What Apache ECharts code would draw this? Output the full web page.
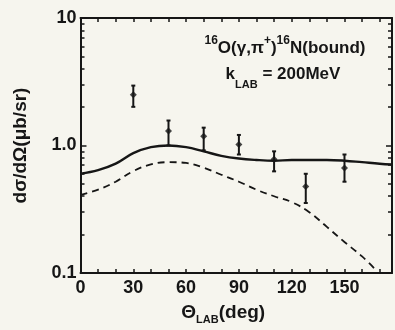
<!DOCTYPE html>
<html>
<head>
<meta charset="utf-8">
<script src="https://cdn.jsdelivr.net/npm/echarts@6/dist/echarts.min.js"></script>
<style>
  html, body { margin: 0; padding: 0; background: #f6f5ee; }
  #chart { width: 395px; height: 330px; }
</style>
</head>
<body>
<div id="chart"></div>
<script>
// theory curves (deg, dσ/dΩ in μb/sr)
const solidDeg = [0, 10, 20, 30, 40, 50, 60, 70, 80, 90, 100, 110, 120, 130, 140, 150, 160, 170, 177]
const solidVal = [0.6, 0.64, 0.72, 0.87, 0.97, 1.0, 0.97, 0.9, 0.83, 0.79, 0.77, 0.76, 0.77, 0.77, 0.77, 0.76, 0.74, 0.72, 0.71]
const dashedDeg = [0, 10, 20, 30, 40, 50, 60, 70, 80, 90, 100, 110, 120, 130, 140, 150, 160, 168]
const dashedVal = [0.41, 0.45, 0.52, 0.63, 0.71, 0.74, 0.73, 0.67, 0.59, 0.52, 0.45, 0.4, 0.36, 0.3, 0.23, 0.175, 0.135, 0.105]

// measured points with error bars
const pointDeg = [30, 50, 70, 90, 110, 128, 150]
const pointVal = [2.5, 1.3, 1.18, 1.02, 0.78, 0.477, 0.665]
const pointLo = [2.01, 1.0, 0.916, 0.85, 0.627, 0.354, 0.52]
const pointHi = [2.95, 1.57, 1.38, 1.21, 0.9, 0.6, 0.85]

const xTicks = [0, 30, 60, 90, 120, 150]
const yLabels = { 0.1: '0.1', 1: '1.0', 10: '10' }

const ink = '#161616'
const font = 'Liberation Sans'

const chart = echarts.init(document.getElementById('chart'))

const zip = (xs, ys) => xs.map((x, i) => [x, ys[i]])

const tickStyle = { color: ink, width: 1.5 }
const frameLine = { show: true, onZero: false, lineStyle: { color: ink, width: 2 } }

chart.setOption({
  backgroundColor: '#f6f5ee',
  animation: false,
  grid: { left: 80.5, right: 3, top: 18, bottom: 48 },
  xAxis: [
    {
      type: 'value',
      min: 0,
      max: 177,
      interval: 30,
      name: '{a|Θ}{s|LAB}{a|(deg)}',
      nameLocation: 'middle',
      nameGap: 30,
      nameTextStyle: {
        padding: [0, 26, 0, 0],
        rich: {
          a: { fontFamily: font, fontSize: 19, fontWeight: 'bold', color: ink, verticalAlign: 'top', lineHeight: 22 },
          s: { fontFamily: font, fontSize: 11, color: ink, fontWeight: 'bold', verticalAlign: 'bottom', lineHeight: 22 },
        },
      },
      axisLine: frameLine,
      axisTick: { show: true, inside: true, length: 4, lineStyle: tickStyle },
      minorTick: { show: true, splitNumber: 3, length: 4, lineStyle: tickStyle },
      splitLine: { show: false },
      axisLabel: {
        color: ink,
        fontFamily: font,
        fontSize: 18,
        fontWeight: 'bold',
        margin: 6,
        formatter: v => (xTicks.includes(v) ? String(v) : ''),
      },
    },
    {
      type: 'value',
      position: 'top',
      min: 0,
      max: 177,
      interval: 30,
      axisLine: frameLine,
      axisTick: { show: true, inside: true, length: 4, lineStyle: tickStyle },
      minorTick: { show: true, splitNumber: 3, length: 4, lineStyle: tickStyle },
      splitLine: { show: false },
      axisLabel: { show: false },
    },
  ],
  yAxis: [
    {
      type: 'log',
      logBase: 10,
      min: 0.1,
      max: 10,
      name: 'dσ/dΩ(μb/sr)',
      nameLocation: 'middle',
      nameGap: 50,
      nameRotate: 90,
      nameTextStyle: { color: ink, fontFamily: font, fontSize: 19, fontWeight: 'bold' },
      axisLine: frameLine,
      axisTick: { show: true, inside: true, length: 6, lineStyle: tickStyle },
      minorTick: { show: true, splitNumber: 9, length: 4, lineStyle: tickStyle },
      splitLine: { show: false },
      axisLabel: {
        color: ink,
        fontFamily: font,
        fontSize: 18,
        fontWeight: 'bold',
        margin: 4,
        formatter: v => yLabels[v] || '',
      },
    },
    {
      type: 'log',
      logBase: 10,
      min: 0.1,
      max: 10,
      position: 'right',
      axisLine: frameLine,
      axisTick: { show: true, inside: true, length: 6, lineStyle: tickStyle },
      minorTick: { show: true, splitNumber: 9, length: 4, lineStyle: tickStyle },
      splitLine: { show: false },
      axisLabel: { show: false },
    },
  ],
  graphic: [
    {
      type: 'text',
      x: 285,
      y: 46,
      style: {
        text: '{sup|16}{b|O(γ,π}{sup|+}{b|)}{sup|16}{b|N(bound)}',
        align: 'center',
        verticalAlign: 'middle',
        rich: {
          b: { fontFamily: font, fontSize: 17, fontWeight: 'bold', fill: ink, verticalAlign: 'bottom', lineHeight: 22 },
          sup: { fontFamily: font, fontSize: 12, fontWeight: 'bold', fill: ink, verticalAlign: 'top', lineHeight: 22 },
        },
      },
    },
    {
      type: 'text',
      x: 283,
      y: 78,
      style: {
        text: '{b|k}{sub|LAB}{b| = 200MeV}',
        align: 'center',
        verticalAlign: 'middle',
        rich: {
          b: { fontFamily: font, fontSize: 17, fontWeight: 'bold', fill: ink, verticalAlign: 'top', lineHeight: 24 },
          sub: { fontFamily: font, fontSize: 11, fill: ink, fontWeight: 'bold', verticalAlign: 'bottom', lineHeight: 24 },
        },
      },
    },
  ],
  series: [
    {
      name: 'full',
      type: 'line',
      data: zip(solidDeg, solidVal),
      smooth: 0.4,
      showSymbol: false,
      lineStyle: { color: ink, width: 2.4 },
    },
    {
      name: 'partial',
      type: 'line',
      data: zip(dashedDeg, dashedVal),
      smooth: 0.4,
      showSymbol: false,
      lineStyle: { color: ink, width: 1.8, type: [7, 5] },
    },
    {
      name: 'errors',
      type: 'custom',
      data: pointDeg.map((x, i) => [x, pointLo[i], pointHi[i]]),
      encode: { x: 0, y: [1, 2] },
      renderItem: (params, api) => {
        const lo = api.coord([api.value(0), api.value(1)])
        const hi = api.coord([api.value(0), api.value(2)])
        const style = { stroke: ink, lineWidth: 2 }
        return {
          type: 'group',
          children: [
            { type: 'line', shape: { x1: lo[0], y1: lo[1], x2: hi[0], y2: hi[1] }, style },
            { type: 'line', shape: { x1: lo[0] - 2, y1: lo[1], x2: lo[0] + 2, y2: lo[1] }, style },
            { type: 'line', shape: { x1: hi[0] - 2, y1: hi[1], x2: hi[0] + 2, y2: hi[1] }, style },
          ],
        }
      },
    },
    {
      name: 'data',
      type: 'scatter',
      data: zip(pointDeg, pointVal),
      symbol: 'diamond',
      symbolSize: 7,
      itemStyle: { color: ink },
    },
  ],
})
</script>
</body>
</html>
